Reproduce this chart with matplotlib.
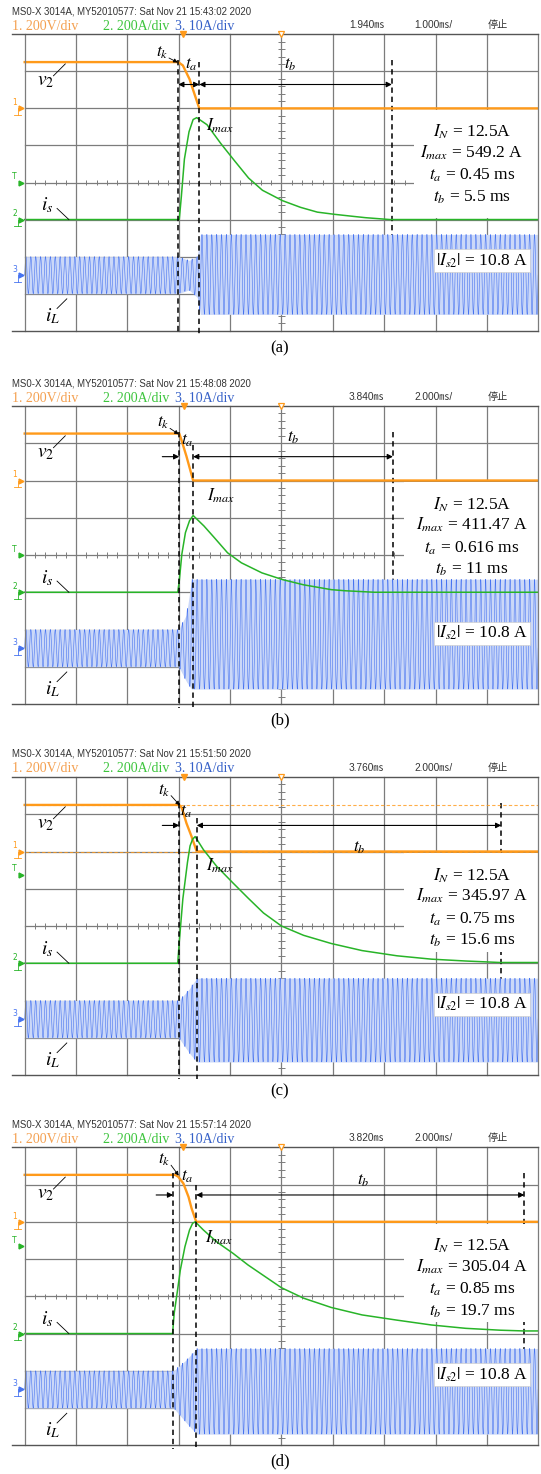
import numpy as np
import matplotlib.pyplot as plt
from matplotlib.patches import Rectangle

plt.rcParams['mathtext.fontset'] = 'stix'
plt.rcParams['font.family'] = ['Liberation Serif', 'DejaVu Serif']

# ============================================================
# DATA read off the four scope screens
# times in ms from the left edge of the screen,
# trace levels in screen divisions above each channel's ground
# ============================================================
panel_tags = ["(a)", "(b)", "(c)", "(d)"]
timestamps = ["15:43:02", "15:48:08", "15:51:50", "15:57:14"]
delay_labels = ["1.940", "3.840", "3.760", "3.820"]
timebase_labels = ["1.000", "2.000", "2.000", "2.000"]
ms_per_div = [1.0, 2.0, 2.0, 2.0]

in_value = "12.5"
imax_values = ["549.2", "411.47", "345.97", "305.04"]
ta_values = ["0.45", "0.616", "0.75", "0.85"]
tb_values = ["5.5", "11", "15.6", "19.7"]
is2_value = "10.8"

# cursor positions (ms)
tk_ms = [2.99, 6.02, 6.02, 5.78]
ta_ms = [3.40, 6.56, 6.70, 6.68]
tb_ms = [7.15, 14.34, 18.56, 19.46]

# channel 1: v2
v2_t = [
    [0, 2.99, 3.08, 3.21, 3.32, 3.40, 10.0],
    [0, 6.02, 6.10, 6.30, 6.56, 20.0],
    [0, 6.02, 6.12, 6.30, 6.50, 6.70, 20.0],
    [0, 5.86, 5.98, 6.18, 6.38, 6.50, 6.68, 20.0],
]
v2_v = [
    [1.25, 1.25, 1.16, 0.79, 0.33, 0, 0],
    [1.26, 1.26, 1.10, 0.65, 0, 0],
    [1.25, 1.25, 1.17, 0.76, 0.40, 0, 0],
    [1.26, 1.26, 1.21, 1.03, 0.67, 0.36, 0, 0],
]

# channel 2: is
is_t = [
    [0, 3.01, 3.05, 3.11, 3.20, 3.28, 3.35, 3.55, 3.82, 4.09, 4.36, 4.63,
     5.02, 5.37, 5.70, 6.04, 6.37, 6.64, 7.11, 10.0],
    [0, 5.96, 6.02, 6.12, 6.26, 6.42, 6.56, 6.98, 7.38, 7.90, 8.44, 9.24,
     10.04, 10.86, 11.94, 12.48, 13.62, 20.0],
    [0, 5.96, 6.02, 6.16, 6.34, 6.44, 6.54, 6.64, 6.96, 7.48, 8.12, 8.70,
     9.30, 10.0, 10.86, 11.94, 13.14, 14.50, 15.84, 17.18, 18.52, 20.0],
    [0, 5.76, 5.82, 5.96, 6.06, 6.24, 6.42, 6.54, 6.64, 6.96, 7.48, 8.12,
     8.70, 10.0, 10.86, 11.94, 13.14, 14.50, 15.84, 17.18, 18.52, 19.44, 20.0],
]
is_v = [
    [0, 0, 0.61, 1.63, 2.37, 2.70, 2.75, 2.56, 2.05, 1.58, 1.12, 0.79,
     0.51, 0.33, 0.20, 0.14, 0.09, 0.05, 0.0, 0.0],
    [0, 0, 0.30, 1.02, 1.60, 1.92, 2.06, 1.78, 1.47, 1.06, 0.79, 0.52,
     0.34, 0.20, 0.07, 0.04, 0.0, 0.0],
    [0, 0, 0.57, 1.73, 2.71, 3.15, 3.33, 3.40, 3.05, 2.60, 2.15, 1.75,
     1.35, 1.00, 0.75, 0.53, 0.34, 0.20, 0.11, 0.06, 0.02, 0.02],
    [0, 0, 0.53, 1.20, 1.70, 2.33, 2.78, 2.96, 3.00, 2.78, 2.46, 2.15,
     1.84, 1.23, 0.95, 0.70, 0.50, 0.36, 0.23, 0.14, 0.09, 0.07, 0.07],
]

# channel 3: iL envelope (upper / lower swing) and ripple density
il_env_t = [
    [0, 2.99, 3.20, 3.36, 3.42, 10.0],
    [0, 6.0, 6.3, 6.5, 20.0],
    [0, 6.0, 6.4, 6.7, 20.0],
    [0, 5.8, 6.3, 6.7, 20.0],
]
il_env_up = [
    [0.5, 0.5, 0.4, 0.5, 1.1, 1.1],
    [0.5, 0.5, 0.9, 1.85, 1.85],
    [0.5, 0.5, 0.8, 1.1, 1.1],
    [0.5, 0.5, 0.8, 1.1, 1.1],
]
il_env_low = [
    [0.5, 0.5, 0.4, 0.6, 1.06, 1.06],
    [0.5, 0.5, 0.9, 1.1, 1.1],
    [0.5, 0.5, 0.9, 1.15, 1.15],
    [0.5, 0.5, 0.9, 1.2, 1.2],
]
il_cycles_per_div = 10.5

# scope markers (divisions)
trig_div = [3.08, 3.11, 3.11, 3.08]
trig_level_div = [4.0, 4.0, 5.38, 5.35]

# ============================================================
# LAYOUT (pixels of the 541 x 1474 page, divisions inside a screen)
# ============================================================
W, H = 541.0, 1474.0
FRAME_L, GRID_L, GRID_R = 11.7, 24.7, 538.2
panel_top = [34.3, 406.0, 777.0, 1147.3]
panel_h = [296.4, 298.0, 298.0, 298.0]
XMIN_DIV = -(GRID_L - FRAME_L) / ((GRID_R - GRID_L) / 10.0)

GND1, GND2, GND3 = 6.0, 3.0, 1.5

ORANGE = '#ff9a1a'
GREEN = '#28b428'
BLUE = '#4673f0'
BLUE_FILL = '#cbd8f8'
GRID = '#7c7c7c'

tk_lab = [(2.67, 7.50), (2.69, 7.54), (2.71, 7.64), (2.71, 7.66)]
ta_lab = [(3.24, 7.17), (3.16, 7.06), (3.14, 7.07), (3.17, 7.20)]
tb_lab = [(5.17, 7.17), (5.23, 7.15), (6.51, 6.11), (6.59, 7.09)]
imax_lab = [(3.53, 5.52), (3.55, 5.59), (3.54, 5.62), (3.51, 5.56)]
tk_tip = [2.98, 3.0, 3.02, 3.0]
arrow_y = [6.645, 6.64, 6.70, 6.72]
ta_dash_top = [7.25, 6.95, 6.9, 7.0]
box_x0 = [7.58, 7.38, 7.38, 7.38]
box_y0 = [3.05, 3.3, 3.3, 3.3]


def fx(px):
    return px / W


def fy(py):
    return 1.0 - py / H


fig = plt.figure(figsize=(W / 100, H / 100), dpi=100)


def draw_panel(i):
    top, h, m = panel_top[i], panel_h[i], ms_per_div[i]
    ax = fig.add_axes([fx(FRAME_L), fy(top + h), fx(GRID_R) - fx(FRAME_L), h / H])
    ax.set_xlim(XMIN_DIV * m, 10 * m)
    ax.set_ylim(0, 8)
    ax.axis('off')

    # graticule
    for k in range(0, 11):
        ax.plot([k * m, k * m], [0, 8], color=GRID, lw=0.9, zorder=1 if 0 < k < 10 else 4,
                clip_on=False)
    for k in range(1, 8):
        ax.plot([0, 10 * m], [k, k], color=GRID, lw=0.9, zorder=1)
    for yy in (0, 8):
        ax.plot([XMIN_DIV * m, 10 * m], [yy, yy], color='#555555', lw=1.0,
                zorder=4, clip_on=False)
    ticks_x = np.arange(0.2, 10, 0.2) * m
    ax.vlines(ticks_x, 4 - 0.07, 4 + 0.07, color=GRID, lw=0.7, zorder=1)
    ticks_y = np.arange(0.2, 8, 0.2)
    ax.hlines(ticks_y, (5 - 0.06) * m, (5 + 0.06) * m, color=GRID, lw=0.7, zorder=1)

    # white box behind the result text
    ax.add_patch(Rectangle((box_x0[i] * m, box_y0[i]), (10 - box_x0[i]) * m,
                           5.95 - box_y0[i], facecolor='white', edgecolor='none',
                           zorder=2))

    # traces
    t = np.linspace(0, 10 * m, 3000)
    up = np.interp(t, il_env_t[i], il_env_up[i])
    low = np.interp(t, il_env_t[i], il_env_low[i])
    s = np.sin(2 * np.pi * il_cycles_per_div * t / m)
    il = GND3 + np.where(s > 0, up * s, low * s)
    ax.fill_between(t, GND3 - low, GND3 + up, color=BLUE_FILL, lw=0, zorder=2.4)
    ax.plot(t, il, color=BLUE, lw=0.4, zorder=2.5)

    if i == 2:
        for lev in (GND1, GND1 + v2_v[i][0]):
            ax.plot([0, 10 * m], [lev, lev], color=ORANGE, lw=0.8,
                    dashes=(3, 2), alpha=0.8, zorder=2.6)
    ax.plot(v2_t[i], GND1 + np.array(v2_v[i]), color=ORANGE, lw=1.7, zorder=3)
    ax.plot(is_t[i], GND2 + np.array(is_v[i]), color=GREEN, lw=1.1, zorder=3)

    # channel markers on the left
    mk_x = -0.07 * m
    for lev, lab, col in ((GND1, '1', ORANGE), (trig_level_div[i], 'T', GREEN),
                          (GND2, '2', GREEN), (GND3, '3', BLUE)):
        ax.plot([mk_x], [lev], marker='>', ms=3.5, color=col, clip_on=False, zorder=5)
        ax.text(-0.2 * m, lev + 0.03, lab, color=col, fontsize=5.5, ha='center',
                va='bottom', family='DejaVu Sans', clip_on=False)
        if lab != 'T':
            ax.plot([-0.14 * m, -0.14 * m], [lev, lev - 0.18], color=col, lw=0.6,
                    clip_on=False)
            ax.plot([-0.2 * m, -0.08 * m], [lev - 0.18, lev - 0.18], color=col, lw=0.6,
                    clip_on=False)
    ax.plot([trig_div[i] * m], [8.0], marker='v', ms=5, color=ORANGE,
            clip_on=False, zorder=5)
    ax.plot([5 * m], [8.0], marker='v', ms=5, mfc='white', mec=ORANGE, mew=0.9,
            clip_on=False, zorder=5)

    # cursors (t_b cursor sits under the white result box)
    dash = dict(color='black', lw=1.1, dashes=(3.5, 2.5), clip_on=False)
    ax.plot([tk_ms[i], tk_ms[i]], [7.3, -0.1], zorder=4, **dash)
    ax.plot([ta_ms[i], ta_ms[i]], [ta_dash_top[i], -0.1], zorder=4, **dash)
    ax.plot([tb_ms[i], tb_ms[i]], [7.3, 2.5], zorder=1.5, **dash)

    arr = dict(color='black', lw=0.8, shrinkA=0, shrinkB=0, mutation_scale=8)
    ay = arrow_y[i]
    if i == 0:
        ax.annotate('', xy=(ta_ms[i], ay), xytext=(tk_ms[i], ay),
                    arrowprops=dict(arrowstyle='<|-|>', **arr), zorder=5)
    else:
        ax.annotate('', xy=(tk_ms[i], ay), xytext=(tk_ms[i] - 0.33 * m, ay),
                    arrowprops=dict(arrowstyle='-|>', **arr), zorder=5)
    ax.annotate('', xy=(tb_ms[i], ay), xytext=(ta_ms[i], ay),
                arrowprops=dict(arrowstyle='<|-|>', **arr), zorder=5)

    # cursor labels
    lab_kw = dict(fontsize=12.5, ha='center', va='center', zorder=6)
    ax.text(tk_lab[i][0] * m, tk_lab[i][1], r'$t_k$', **lab_kw)
    ax.annotate('', xy=(tk_tip[i] * m, 7.24),
                xytext=((tk_lab[i][0] + 0.14) * m, tk_lab[i][1] - 0.14),
                arrowprops=dict(arrowstyle='-|>', color='black', lw=0.6,
                                shrinkA=0, shrinkB=0, mutation_scale=6))
    ax.text(ta_lab[i][0] * m, ta_lab[i][1], r'$t_a$', **lab_kw)
    ax.text(tb_lab[i][0] * m, tb_lab[i][1], r'$t_b$', **lab_kw)
    ax.text(imax_lab[i][0] * m, imax_lab[i][1], r'$I_{max}$', fontsize=12.5,
            ha='left', va='center', zorder=6)

    # trace names with leader lines
    ax.text(0.40 * m, 6.72, r'$v_2$', fontsize=14, ha='center', va='center')
    ax.plot([0.56 * m, 0.79 * m], [6.88, 7.20], color='black', lw=0.6, zorder=5)
    ax.text(0.43 * m, 3.38, r'$i_s$', fontsize=14, ha='center', va='center')
    ax.plot([0.63 * m, 0.86 * m], [3.30, 3.0], color='black', lw=0.6, zorder=5)
    ax.text(0.55 * m, 0.40, r'$i_L$', fontsize=14, ha='center', va='center')
    ax.plot([0.63 * m, 0.82 * m], [0.60, 0.86], color='black', lw=0.6, zorder=5)

    # results
    res = [r'$I_N$ = ' + in_value + 'A',
           r'$I_{max}$ = ' + imax_values[i] + ' A',
           r'$t_a$ = ' + ta_values[i] + ' ms',
           r'$t_b$ = ' + tb_values[i] + ' ms']
    for y, s_ in zip([5.36, 4.80, 4.19, 3.61], res):
        ax.text(8.71 * m, y, s_, fontsize=12.5, ha='center', va='center', zorder=6)
    ax.text(8.9 * m, 1.9, r'$\vert I_{s2}\vert$ = ' + is2_value + ' A', fontsize=12.5,
            ha='center', va='center', zorder=6,
            bbox=dict(facecolor='white', edgecolor='#d0d0d0', lw=0.5, pad=1.5))

    # scope header
    fig.text(fx(12), fy(top - 23), 'MS0-X 3014A, MY52010577: Sat Nov 21 '
             + timestamps[i] + ' 2020', fontsize=6.9, color='#333333',
             family=['Liberation Sans Narrow', 'Liberation Sans'], va='center')
    fig.text(fx(12), fy(top - 8), '1. 200V/div', fontsize=10, color='#f4a050',
             va='center')
    fig.text(fx(103), fy(top - 8), '2. 200A/div', fontsize=10, color='#3cc43c',
             va='center')
    fig.text(fx(175), fy(top - 8), '3. 10A/div', fontsize=10, color='#3560c8',
             va='center')
    hdr = dict(fontsize=7.3, color='#333333', va='center',
               family=['Liberation Sans', 'Noto Sans CJK SC'])
    fig.text(fx(349), fy(top - 9), delay_labels[i] + '\u33b3', **hdr)
    fig.text(fx(414), fy(top - 9), timebase_labels[i] + '\u33b3/', **hdr)
    fig.text(fx(488), fy(top - 9), '停止', **hdr)

    # caption
    fig.text(fx(280), fy(top + 314), panel_tags[i], fontsize=12, ha='center',
             va='center')


for i in range(4):
    draw_panel(i)

fig.savefig('out.png', dpi=100)
